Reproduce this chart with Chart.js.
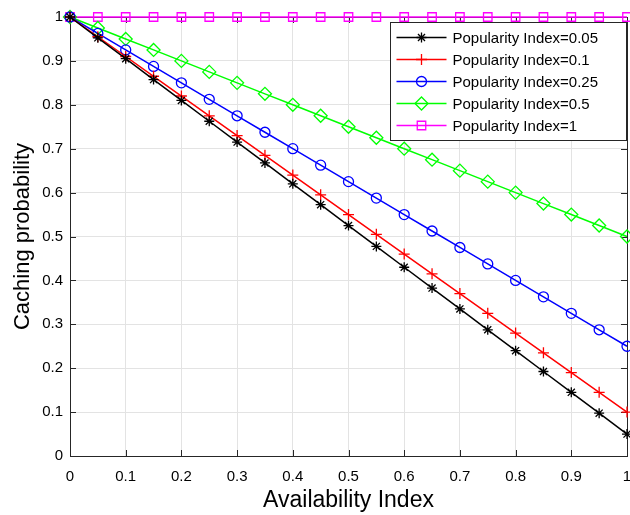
<!DOCTYPE html>
<html>
<head>
<meta charset="utf-8">
<script src="https://cdn.jsdelivr.net/npm/chart.js@4/dist/chart.umd.min.js"></script>
<style>
  html, body { margin: 0; padding: 0; background: #fff; }
  #wrap { width: 630px; height: 515px; }
</style>
</head>
<body>
<div id="wrap"><canvas id="myChart" width="630" height="515"></canvas></div>
<script>
// availability index (x)
var availability = [0, 0.05, 0.1, 0.15, 0.2, 0.25, 0.3, 0.35, 0.4, 0.45, 0.5,
                    0.55, 0.6, 0.65, 0.7, 0.75, 0.8, 0.85, 0.9, 0.95, 1];

// caching probability per popularity index
var pop005 = [1, 0.9525, 0.905, 0.8575, 0.81, 0.7625, 0.715, 0.6675, 0.62, 0.5725, 0.525,
              0.4775, 0.43, 0.3825, 0.335, 0.2875, 0.24, 0.1925, 0.145, 0.0975, 0.05];
var pop01 = [1, 0.955, 0.91, 0.865, 0.82, 0.775, 0.73, 0.685, 0.64, 0.595, 0.55,
             0.505, 0.46, 0.415, 0.37, 0.325, 0.28, 0.235, 0.19, 0.145, 0.1];
var pop025 = [1, 0.9625, 0.925, 0.8875, 0.85, 0.8125, 0.775, 0.7375, 0.7, 0.6625, 0.625,
              0.5875, 0.55, 0.5125, 0.475, 0.4375, 0.4, 0.3625, 0.325, 0.2875, 0.25];
var pop05 = [1, 0.975, 0.95, 0.925, 0.9, 0.875, 0.85, 0.825, 0.8, 0.775, 0.75,
             0.725, 0.7, 0.675, 0.65, 0.625, 0.6, 0.575, 0.55, 0.525, 0.5];
var pop1 = [1, 1, 1, 1, 1, 1, 1, 1, 1, 1, 1, 1, 1, 1, 1, 1, 1, 1, 1, 1, 1];

var seriesLabels = ['Popularity Index=0.05', 'Popularity Index=0.1', 'Popularity Index=0.25',
                    'Popularity Index=0.5', 'Popularity Index=1'];
var tickLabels = ['0', '0.1', '0.2', '0.3', '0.4', '0.5', '0.6', '0.7', '0.8', '0.9', '1'];

var FONT = '"Liberation Sans", Arial, sans-serif';
var AXIS = '#262626';

function toPoints(ys) {
    return ys.map(function(y, i) { return { x: availability[i], y: y }; });
}

function makeSet(label, ys, color, style, radius) {
    return {
        label: label,
        data: toPoints(ys),
        borderColor: color,
        backgroundColor: 'rgba(0,0,0,0)',
        pointBorderColor: color,
        pointBackgroundColor: 'rgba(0,0,0,0)',
        pointStyle: style,
        pointRadius: radius,
        pointBorderWidth: 1.3,
        borderWidth: 1.5,
        tension: 0,
        clip: false
    };
}

function tickLabel(v) {
    var i = Math.round(v * 10);
    if (Math.abs(v * 10 - i) > 1e-6) return '';
    return tickLabels[i];
}

// box, inward ticks and legend, MATLAB style
var matlabBox = {
    id: 'matlabBox',
    beforeDatasetsDraw: function(chart) {
        var ctx = chart.ctx, a = chart.chartArea;
        var xs = chart.scales.x, ys = chart.scales.y;
        ctx.save();
        ctx.strokeStyle = AXIS;
        ctx.lineWidth = 1;
        ctx.beginPath();
        for (var i = 0; i <= 10; i++) {
            var px = Math.round(xs.getPixelForValue(i / 10)) + 0.5;
            var py = Math.round(ys.getPixelForValue(i / 10)) + 0.5;
            ctx.moveTo(px, a.bottom); ctx.lineTo(px, a.bottom - 6);
            ctx.moveTo(px, a.top); ctx.lineTo(px, a.top + 6);
            ctx.moveTo(a.left, py); ctx.lineTo(a.left + 6, py);
            ctx.moveTo(a.right, py); ctx.lineTo(a.right - 6, py);
        }
        ctx.stroke();
        ctx.strokeRect(Math.round(a.left) + 0.5, Math.round(a.top) + 0.5,
                       Math.round(a.right - a.left), Math.round(a.bottom - a.top));
        ctx.restore();
    },
    afterDraw: function(chart) {
        var ctx = chart.ctx;
        var bx = 390.5, by = 22.5, bw = 236, bh = 118;
        ctx.save();
        ctx.fillStyle = '#fff';
        ctx.fillRect(bx, by, bw, bh);
        ctx.strokeStyle = AXIS;
        ctx.lineWidth = 1;
        ctx.strokeRect(bx, by, bw, bh);
        ctx.font = '15px ' + FONT;
        ctx.textBaseline = 'middle';
        chart.data.datasets.forEach(function(ds, i) {
            var y = by + 15 + i * 22;
            ctx.strokeStyle = ds.borderColor;
            ctx.lineWidth = ds.borderWidth;
            ctx.beginPath();
            ctx.moveTo(bx + 6, y); ctx.lineTo(bx + 56, y);
            ctx.stroke();
            ctx.fillStyle = 'rgba(0,0,0,0)';
            ctx.lineWidth = ds.pointBorderWidth;
            Chart.helpers.drawPoint(ctx, {
                pointStyle: ds.pointStyle,
                radius: ds.pointRadius,
                rotation: 0,
                borderWidth: ds.pointBorderWidth
            }, bx + 31, y);
            ctx.fillStyle = '#000';
            ctx.fillText(ds.label, bx + 62, y + 1);
        });
        ctx.restore();
    }
};

var ctx = document.getElementById('myChart').getContext('2d');
var myChart = new Chart(ctx, {
    type: 'line',
    data: {
        datasets: [
            makeSet(seriesLabels[0], pop005, '#000000', 'star', 5),
            makeSet(seriesLabels[1], pop01, '#ff0000', 'cross', 5.5),
            makeSet(seriesLabels[2], pop025, '#0000ff', 'circle', 5),
            makeSet(seriesLabels[3], pop05, '#00ff00', 'rectRot', 6.5),
            makeSet(seriesLabels[4], pop1, '#ff00ff', 'rect', 6)
        ]
    },
    options: {
        responsive: false,
        animation: false,
        layout: { autoPadding: false, padding: { top: 17, right: 3, left: 0, bottom: 0 } },
        plugins: {
            legend: { display: false },
            tooltip: { enabled: false }
        },
        scales: {
            x: {
                type: 'linear',
                min: 0, max: 1,
                ticks: {
                    stepSize: 0.1,
                    autoSkip: false,
                    maxRotation: 0,
                    color: '#000',
                    font: { family: FONT, size: 15 },
                    padding: 12,
                    callback: tickLabel
                },
                grid: { color: '#e3e3e3', drawTicks: false, lineWidth: 1 },
                border: { display: false },
                title: {
                    display: true,
                    text: 'Availability Index',
                    color: '#000',
                    font: { family: FONT, size: 23 },
                    padding: { top: 0, bottom: 1 }
                },
                afterFit: function(s) {
                    s.height = 59;
                    s.paddingLeft = 0;
                    s.paddingRight = 0;
                }
            },
            y: {
                type: 'linear',
                min: 0, max: 1,
                ticks: {
                    stepSize: 0.1,
                    autoSkip: false,
                    color: '#000',
                    font: { family: FONT, size: 15 },
                    padding: 7,
                    callback: tickLabel
                },
                grid: { color: '#e3e3e3', drawTicks: false, lineWidth: 1 },
                border: { display: false },
                title: {
                    display: true,
                    text: 'Caching probability',
                    color: '#000',
                    font: { family: FONT, size: 22 },
                    padding: { top: 10, bottom: 0 }
                },
                afterFit: function(s) { s.width = 70; }
            }
        }
    },
    plugins: [matlabBox]
});
</script>
</body>
</html>
